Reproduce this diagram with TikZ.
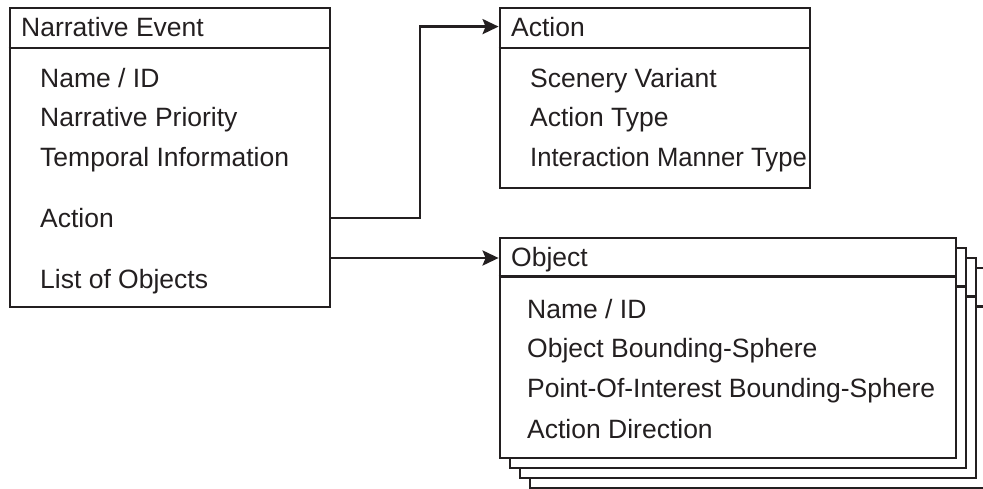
\documentclass[tikz,border=0pt]{standalone}
\usepackage{fontspec}
\setmainfont{Liberation Sans}
\usetikzlibrary{arrows.meta,calc}
\definecolor{ink}{RGB}{35,31,32}
\begin{document}
\begin{tikzpicture}[x=1pt,y=-1pt,
  box/.style={draw=ink,line width=2.8pt,fill=white,rectangle,inner sep=0pt},
  rule/.style={draw=ink,line width=2.8pt},
  txt/.style={anchor=base west,inner sep=0pt,text=ink,font=\fontsize{26.5}{30}\selectfont},
  arr/.style={draw=ink,line width=2.8pt,-{Stealth[length=16pt,width=15pt,inset=3pt]}}]
\useasboundingbox (0,0) rectangle (983,489);
% Narrative Event
\node[box,minimum width=320pt,minimum height=299pt] (ne) at (170,157.5) {};
\draw[rule] (ne.west |- 0,48) -- (ne.east |- 0,48);
\node[txt] (neT) at (21,37) {Narrative Event};
\node[txt] (ne1) at (40,88) {Name / ID};
\node[txt] (ne2) at (40,127) {Narrative Priority};
\node[txt] (ne3) at (40,167) {Temporal Information};
\node[txt] (ne4) at (40,228) {Action};
\node[txt] (ne5) at (40,288) {List of Objects};
% Action
\node[box,minimum width=310pt,minimum height=180pt] (act) at (655,98) {};
\draw[rule] (act.west |- 0,48) -- (act.east |- 0,48);
\node[txt] (actT) at (511,37) {Action};
\node[txt] (act1) at (530,88) {Scenery Variant};
\node[txt] (act2) at (530,127) {Action Type};
\node[txt] (act3) at (530,167) {\scalebox{0.968}[1]{Interaction Manner Type}};
% Object stack (back to front)
\foreach \k in {3,2,1} {
  \node[box,minimum width=456pt,minimum height=220pt] (ob\k) at (728+10*\k,348+10*\k) {};
  \draw[rule] ($(ob\k.north west)+(0,40)$) -- ($(ob\k.north east)+(0,40)$);
}
\node[box,minimum width=456pt,minimum height=220pt] (obj) at (728,348) {};
\draw[rule] ($(obj.north west)+(0,40)$) -- ($(obj.north east)+(0,40)$);
\node[txt] (objT) at (511,267) {Object};
\node[txt] (obj1) at (527,318) {Name / ID};
\node[txt] (obj2) at (527,357) {Object Bounding-Sphere};
\node[txt] (obj3) at (527,397) {Point-Of-Interest Bounding-Sphere};
\node[txt] (obj4) at (527,438) {Action Direction};
% connectors
\coordinate (ya) at (0,218);
\coordinate (yo) at (0,258);
\coordinate (acthd) at ($(act.north west)+(0,20)$);
\draw[arr] (ne.east |- ya) -- (420,218) |- (acthd);
\draw[arr] (ne.east |- yo) -- (obj.west |- yo);
\end{tikzpicture}
\end{document}
